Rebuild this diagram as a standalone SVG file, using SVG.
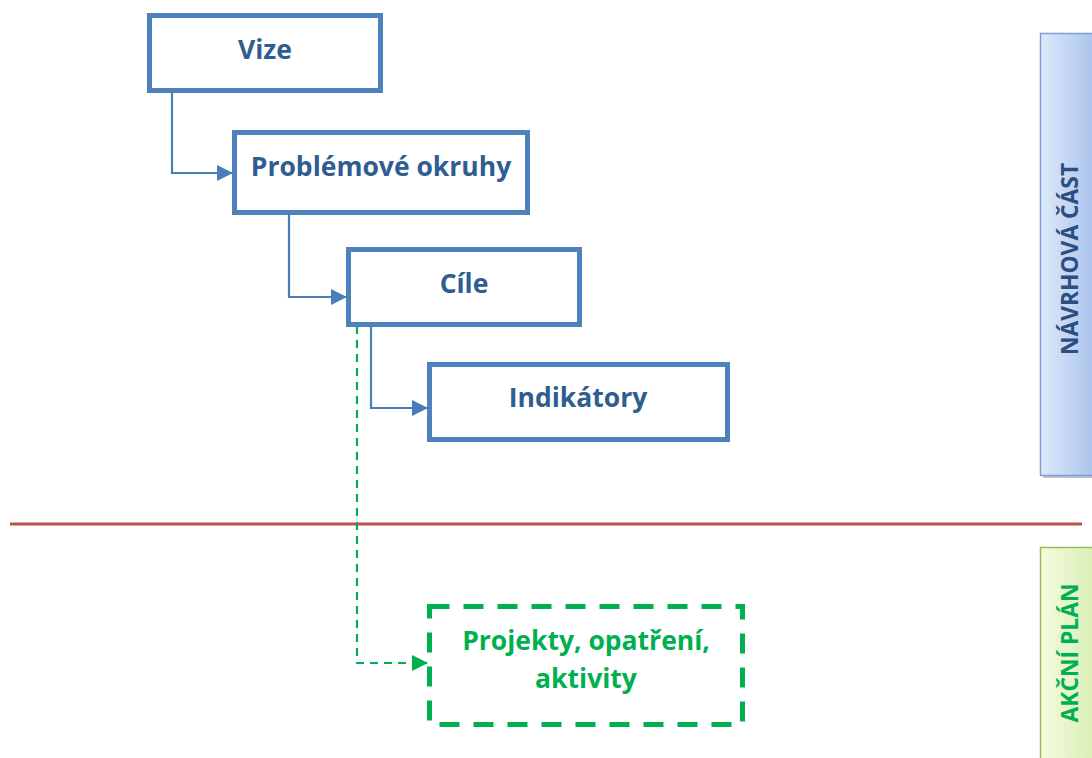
<svg xmlns="http://www.w3.org/2000/svg" width="1092" height="758" viewBox="0 0 1092 758">
<defs>
<linearGradient id="gBlue" x1="0" y1="0" x2="1" y2="0">
<stop offset="0" stop-color="#dfe9fa"/>
<stop offset="1" stop-color="#a9c3ec"/>
</linearGradient>
<linearGradient id="gGreen" x1="0" y1="0" x2="1" y2="0">
<stop offset="0" stop-color="#f3fbe0"/>
<stop offset="1" stop-color="#d9efb4"/>
</linearGradient>
<marker id="aBlue" markerWidth="16" markerHeight="16" refX="15" refY="8" orient="auto" markerUnits="userSpaceOnUse">
<path d="M0,0 L16,8 L0,16 Z" fill="#4a7ebb"/>
</marker>
<marker id="aGreen" markerWidth="16" markerHeight="16" refX="15" refY="8" orient="auto" markerUnits="userSpaceOnUse">
<path d="M0,0 L16,8 L0,16 Z" fill="#00b050"/>
</marker>
</defs>
<style>
.box{fill:#ffffff;stroke:#4f81bd;stroke-width:5}
.gbox{fill:#ffffff;stroke:#00b050;stroke-width:5;stroke-dasharray:20 14}
.t{font-family:"Open Sans","Liberation Sans",sans-serif;font-weight:bold;font-size:26.5px;fill:#2f5d91;text-anchor:middle}
.tg{font-family:"Open Sans","Liberation Sans",sans-serif;font-weight:bold;font-size:26.5px;fill:#00b050;text-anchor:middle}
.side{font-family:"Open Sans","Liberation Sans",sans-serif;font-weight:bold;font-size:22.8px;text-anchor:middle}
.c{fill:none;stroke:#4a7ebb;stroke-width:2.2}
.cg{fill:none;stroke:#00b050;stroke-width:2.2;stroke-dasharray:8 6}
</style>
<rect width="1092" height="758" fill="#ffffff"/>
<g id="sidebar-navrhova">
<rect x="1043" y="36" width="52" height="442" fill="#9a9a9a" opacity="0.6"/>
<rect x="1040.5" y="33.5" width="55" height="442" fill="url(#gBlue)" stroke="#7a9fd6" stroke-width="1.5"/>
<text class="side" fill="#2b4f80" transform="translate(1078,259) rotate(-90)">NÁVRHOVÁ ČÁST</text>
</g>
<g id="sidebar-akcni">
<rect x="1040.5" y="547.5" width="55" height="215" fill="url(#gGreen)" stroke="#9bbb59" stroke-width="1.5"/>
<text class="side" fill="#00b050" transform="translate(1078,653) rotate(-90)">AKČNÍ PLÁN</text>
</g>
<g id="divider">
<line x1="10" y1="524" x2="1082" y2="524" stroke="#c0504d" stroke-width="3"/>
</g>
<g id="connectors">
<path class="c" d="M172,92 V173 H232" marker-end="url(#aBlue)"/>
<path class="c" d="M289,214 V297 H346" marker-end="url(#aBlue)"/>
<path class="c" d="M371,326 V408 H427" marker-end="url(#aBlue)"/>
<path class="cg" d="M357,326 V663 H427" marker-end="url(#aGreen)"/>
</g>
<g id="node-vize">
<rect class="box" x="149.5" y="15.5" width="231" height="75"/>
<text class="t" x="265" y="59">Vize</text>
</g>
<g id="node-problemove">
<rect class="box" x="234.5" y="132.5" width="293" height="80"/>
<text class="t" x="381" y="176">Problémové okruhy</text>
</g>
<g id="node-cile">
<rect class="box" x="348.5" y="249.5" width="231" height="75"/>
<text class="t" x="464" y="293">Cíle</text>
</g>
<g id="node-indikatory">
<rect class="box" x="429.5" y="364.5" width="298" height="75"/>
<text class="t" x="578" y="407">Indikátory</text>
</g>
<g id="node-projekty">
<rect class="gbox" x="429.5" y="606.5" width="313" height="118"/>
<text class="tg" x="586" y="650">Projekty, opatření,</text>
<text class="tg" x="586" y="688">aktivity</text>
</g>
</svg>
